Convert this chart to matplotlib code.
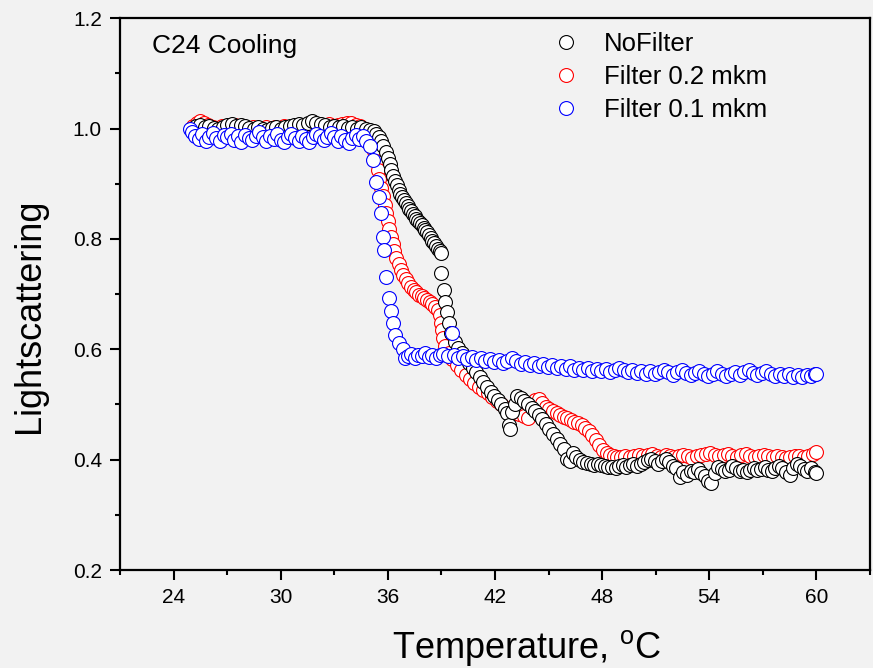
import numpy as np
import matplotlib
matplotlib.use("Agg")
import matplotlib.pyplot as plt
from matplotlib.ticker import MultipleLocator

plt.rcParams['font.family'] = ['Liberation Sans', 'DejaVu Sans']

# NoFilter run
t_nofilter = [
    25.00, 25.25, 25.50, 25.75, 26.00, 26.25, 26.50, 26.75, 27.00, 27.25,
    27.50, 27.75, 28.00, 28.25, 28.50, 28.75, 29.00, 29.25, 29.50, 29.75,
    30.00, 30.25, 30.50, 30.75, 31.00, 31.25, 31.50, 31.75, 32.00, 32.25,
    32.50, 32.75, 33.00, 33.25, 33.50, 33.75, 34.00, 34.25, 34.50, 34.75,
    35.00, 35.20, 35.35, 35.50, 35.62, 35.75, 35.87, 36.00, 36.10, 36.20,
    36.30, 36.40, 36.50, 36.60, 36.70, 36.80, 36.90, 37.00, 37.10, 37.20,
    37.30, 37.40, 37.50, 37.60, 37.70, 37.80, 37.90, 38.00, 38.10, 38.20,
    38.30, 38.40, 38.50, 38.60, 38.70, 38.80, 38.90, 38.97, 39.00, 39.12,
    39.22, 39.30, 39.40, 39.55, 39.75, 39.95, 40.15, 40.35, 40.55, 40.75,
    40.95, 41.15, 41.35, 41.55, 41.75, 41.95, 42.15, 42.35, 42.55, 42.70,
    42.78, 42.85, 42.95, 43.10, 43.25, 43.45, 43.65, 43.85, 44.05, 44.25,
    44.45, 44.65, 44.85, 45.05, 45.25, 45.45, 45.65, 45.85, 46.05, 46.20,
    46.35, 46.55, 46.75, 46.95, 47.15, 47.35, 47.55, 47.75, 47.95, 48.15,
    48.35, 48.55, 48.75, 48.95, 49.15, 49.35, 49.55, 49.75, 49.95, 50.15,
    50.35, 50.55, 50.75, 50.95, 51.15, 51.35, 51.55, 51.75, 51.95, 52.15,
    52.35, 52.55, 52.75, 52.95, 53.15, 53.35, 53.55, 53.75, 53.95, 54.10,
    54.30, 54.50, 54.70, 54.90, 55.10, 55.30, 55.50, 55.70, 55.90, 56.10,
    56.30, 56.50, 56.70, 56.90, 57.10, 57.30, 57.50, 57.70, 57.90, 58.10,
    58.30, 58.50, 58.70, 58.90, 59.10, 59.30, 59.50, 59.70, 59.90, 60.00,
]
ls_nofilter = [
    1.000, 1.004, 1.006, 1.002, 1.005, 1.001, 0.999, 1.003, 1.006, 1.008,
    1.004, 1.007, 1.005, 1.001, 0.999, 1.002, 1.000, 0.997, 1.001, 1.003,
    0.999, 1.002, 1.005, 1.007, 1.009, 1.006, 1.010, 1.013, 1.011, 1.008,
    1.006, 1.003, 1.005, 1.002, 1.004, 1.001, 1.003, 0.999, 1.002, 1.000,
    0.998, 0.995, 0.990, 0.984, 0.977, 0.968, 0.958, 0.947, 0.936, 0.925,
    0.914, 0.905, 0.897, 0.889, 0.882, 0.876, 0.870, 0.865, 0.860, 0.855,
    0.850, 0.846, 0.841, 0.837, 0.833, 0.829, 0.825, 0.820, 0.816, 0.812,
    0.807, 0.802, 0.797, 0.792, 0.787, 0.782, 0.778, 0.774, 0.738, 0.708,
    0.686, 0.667, 0.647, 0.629, 0.614, 0.603, 0.594, 0.584, 0.575, 0.566,
    0.558, 0.550, 0.541, 0.532, 0.523, 0.515, 0.508, 0.500, 0.491, 0.484,
    0.462, 0.455, 0.486, 0.500, 0.515, 0.512, 0.506, 0.501, 0.494, 0.488,
    0.481, 0.473, 0.465, 0.456, 0.447, 0.438, 0.428, 0.419, 0.401, 0.398,
    0.412, 0.405, 0.400, 0.396, 0.394, 0.392, 0.391, 0.392, 0.390, 0.388,
    0.386, 0.387, 0.385, 0.389, 0.390, 0.387, 0.391, 0.393, 0.389, 0.392,
    0.396, 0.400, 0.402, 0.397, 0.393, 0.398, 0.401, 0.395, 0.389, 0.384,
    0.369, 0.378, 0.372, 0.380, 0.377, 0.383, 0.375, 0.370, 0.362, 0.357,
    0.376, 0.386, 0.383, 0.379, 0.381, 0.388, 0.384, 0.380, 0.382, 0.378,
    0.381, 0.385, 0.381, 0.383, 0.386, 0.382, 0.379, 0.384, 0.389, 0.384,
    0.378, 0.372, 0.385, 0.393, 0.389, 0.383, 0.380, 0.384, 0.378, 0.375,
]

# 0.2 mkm filter run
t_filter02 = [
    25.10, 25.30, 25.50, 25.70, 25.95, 26.20, 26.45, 26.70, 26.95, 27.20,
    27.45, 27.70, 27.95, 28.20, 28.45, 28.70, 28.95, 29.20, 29.45, 29.70,
    29.95, 30.20, 30.45, 30.70, 30.95, 31.20, 31.45, 31.70, 31.95, 32.20,
    32.45, 32.70, 32.95, 33.20, 33.45, 33.70, 33.95, 34.20, 34.45, 34.70,
    34.95, 35.10, 35.22, 35.32, 35.42, 35.52, 35.62, 35.72, 35.82, 35.92,
    36.00, 36.08, 36.17, 36.27, 36.37, 36.48, 36.60, 36.73, 36.87, 37.00,
    37.15, 37.30, 37.45, 37.60, 37.75, 37.90, 38.05, 38.20, 38.35, 38.50,
    38.65, 38.80, 38.92, 38.98, 39.02, 39.10, 39.22, 39.40, 39.60, 39.85,
    40.10, 40.35, 40.60, 40.85, 41.10, 41.35, 41.60, 41.85, 42.10, 42.35,
    42.60, 42.85, 43.10, 43.35, 43.60, 43.85, 44.05, 44.25, 44.45, 44.65,
    44.85, 45.05, 45.25, 45.45, 45.65, 45.85, 46.05, 46.25, 46.45, 46.65,
    46.85, 47.05, 47.25, 47.45, 47.65, 47.85, 48.05, 48.25, 48.45, 48.65,
    48.85, 49.05, 49.30, 49.55, 49.80, 50.05, 50.30, 50.55, 50.80, 51.05,
    51.30, 51.55, 51.80, 52.05, 52.30, 52.55, 52.80, 53.05, 53.30, 53.55,
    53.80, 54.05, 54.30, 54.55, 54.80, 55.05, 55.30, 55.55, 55.80, 56.05,
    56.30, 56.55, 56.80, 57.05, 57.30, 57.55, 57.80, 58.05, 58.30, 58.55,
    58.80, 59.05, 59.30, 59.55, 59.80, 60.00,
]
ls_filter02 = [
    1.004, 1.010, 1.014, 1.011, 1.006, 1.003, 1.001, 1.004, 1.002, 1.005,
    1.007, 1.004, 1.002, 1.000, 1.003, 1.001, 0.999, 1.002, 1.000, 1.003,
    1.001, 1.004, 1.002, 1.005, 1.006, 1.004, 1.007, 1.009, 1.006, 1.004,
    1.006, 1.008, 1.005, 1.007, 1.009, 1.011, 1.010, 1.007, 1.004, 1.000,
    0.990, 0.975, 0.960, 0.942, 0.925, 0.908, 0.892, 0.877, 0.862, 0.847,
    0.833, 0.818, 0.804, 0.790, 0.778, 0.765, 0.754, 0.744, 0.735, 0.727,
    0.720, 0.713, 0.707, 0.703, 0.699, 0.696, 0.693, 0.690, 0.686, 0.682,
    0.677, 0.671, 0.662, 0.648, 0.635, 0.620, 0.606, 0.593, 0.582, 0.571,
    0.562, 0.554, 0.546, 0.539, 0.532, 0.526, 0.520, 0.514, 0.507, 0.500,
    0.494, 0.489, 0.485, 0.482, 0.479, 0.476, 0.495, 0.508, 0.510, 0.502,
    0.496, 0.491, 0.488, 0.485, 0.481, 0.478, 0.476, 0.472, 0.469, 0.466,
    0.462, 0.457, 0.452, 0.445, 0.436, 0.427, 0.418, 0.412, 0.409, 0.407,
    0.405, 0.404, 0.406, 0.404, 0.407, 0.409, 0.406, 0.408, 0.410, 0.407,
    0.405, 0.408, 0.406, 0.404, 0.407, 0.409, 0.406, 0.403, 0.406, 0.408,
    0.410, 0.412, 0.409, 0.406, 0.408, 0.410, 0.407, 0.405, 0.408, 0.410,
    0.407, 0.405, 0.407, 0.409, 0.406, 0.404, 0.407, 0.405, 0.403, 0.405,
    0.407, 0.406, 0.404, 0.406, 0.410, 0.413,
]

# 0.1 mkm filter run
t_filter01 = [
    24.90, 25.05, 25.20, 25.40, 25.60, 25.80, 26.00, 26.20, 26.40, 26.60,
    26.80, 27.00, 27.20, 27.40, 27.60, 27.80, 28.00, 28.20, 28.40, 28.60,
    28.80, 29.00, 29.20, 29.40, 29.60, 29.80, 30.00, 30.20, 30.40, 30.60,
    30.80, 31.00, 31.20, 31.40, 31.60, 31.80, 32.00, 32.20, 32.40, 32.60,
    32.80, 33.00, 33.20, 33.40, 33.60, 33.80, 34.00, 34.20, 34.40, 34.60,
    34.80, 35.00, 35.15, 35.32, 35.48, 35.60, 35.70, 35.78, 35.90, 36.05,
    36.17, 36.28, 36.42, 36.60, 36.82, 36.98, 37.10, 37.30, 37.50, 37.70,
    37.90, 38.10, 38.30, 38.50, 38.70, 38.90, 39.10, 39.35, 39.60, 39.70,
    39.95, 40.20, 40.45, 40.70, 40.95, 41.20, 41.45, 41.70, 41.95, 42.20,
    42.45, 42.70, 42.95, 43.20, 43.45, 43.70, 43.95, 44.20, 44.45, 44.70,
    44.95, 45.20, 45.45, 45.70, 45.95, 46.20, 46.45, 46.70, 46.95, 47.20,
    47.45, 47.70, 47.95, 48.20, 48.45, 48.70, 48.95, 49.20, 49.45, 49.70,
    49.95, 50.20, 50.45, 50.70, 50.95, 51.20, 51.45, 51.70, 51.95, 52.20,
    52.45, 52.70, 52.95, 53.20, 53.45, 53.70, 53.95, 54.20, 54.45, 54.70,
    54.95, 55.20, 55.45, 55.70, 55.95, 56.20, 56.45, 56.70, 56.95, 57.20,
    57.45, 57.70, 57.95, 58.20, 58.45, 58.70, 58.95, 59.20, 59.45, 59.70,
    59.90, 60.00,
]
ls_filter01 = [
    1.000, 0.993, 0.987, 0.982, 0.990, 0.978, 0.985, 0.992, 0.983, 0.977,
    0.988, 0.984, 0.991, 0.980, 0.986, 0.976, 0.989, 0.983, 0.979, 0.987,
    0.993, 0.984, 0.978, 0.986, 0.982, 0.990, 0.980, 0.975, 0.985, 0.990,
    0.983, 0.978, 0.987, 0.981, 0.976, 0.984, 0.991, 0.987, 0.980, 0.985,
    0.992, 0.984, 0.978, 0.986, 0.980, 0.973, 0.983, 0.989, 0.982, 0.986,
    0.978, 0.968, 0.943, 0.903, 0.876, 0.847, 0.804, 0.780, 0.731, 0.693,
    0.670, 0.648, 0.626, 0.612, 0.600, 0.584, 0.588, 0.592, 0.585, 0.590,
    0.587, 0.593, 0.586, 0.590, 0.584, 0.589, 0.591, 0.587, 0.629, 0.590,
    0.584, 0.588, 0.582, 0.586, 0.580, 0.584, 0.579, 0.583, 0.577, 0.581,
    0.575, 0.579, 0.584, 0.578, 0.573, 0.577, 0.571, 0.575, 0.570, 0.574,
    0.568, 0.572, 0.566, 0.570, 0.565, 0.569, 0.563, 0.567, 0.562, 0.566,
    0.561, 0.565, 0.560, 0.564, 0.559, 0.563, 0.567, 0.562, 0.558, 0.562,
    0.557, 0.561, 0.556, 0.560, 0.555, 0.559, 0.563, 0.558, 0.554, 0.558,
    0.562, 0.557, 0.553, 0.557, 0.561, 0.556, 0.552, 0.556, 0.560, 0.555,
    0.551, 0.555, 0.559, 0.554, 0.558, 0.562, 0.557, 0.553, 0.557, 0.561,
    0.556, 0.552, 0.556, 0.551, 0.555, 0.550, 0.554, 0.549, 0.553, 0.551,
    0.555, 0.556,
]

bg = '#f2f2f2'
fig = plt.figure(figsize=(8.73, 6.68), dpi=100, facecolor=bg)
ax = fig.add_axes([0.1375, 0.1467, 0.859, 0.826], facecolor=bg)

style = dict(ls='none', marker='o', ms=10, mfc='white', mew=0.8)
l02, = ax.plot(t_filter02, ls_filter02, mec='#ff0000', zorder=2,
               label='Filter 0.2 mkm', **style)
l00, = ax.plot(t_nofilter, ls_nofilter, mec='black', zorder=3,
               label='NoFilter', **style)
l01, = ax.plot(t_filter01, ls_filter01, mec='#0000ff', zorder=4,
               label='Filter 0.1 mkm', **style)

ax.set_xlim(21, 63)
ax.set_ylim(0.2, 1.2)
ax.xaxis.set_major_locator(MultipleLocator(6))
ax.xaxis.set_minor_locator(MultipleLocator(3))
ax.yaxis.set_major_locator(MultipleLocator(0.2))
ax.yaxis.set_minor_locator(MultipleLocator(0.1))
ax.set_xticks(np.arange(24, 61, 6))
ax.yaxis.set_major_formatter(matplotlib.ticker.FormatStrFormatter('%.1f'))

ax.tick_params(which='major', direction='out', length=7, width=1.5,
               labelsize=15, pad=6)
ax.tick_params(which='minor', direction='out', length=3.5, width=1.5)
for s in ax.spines.values():
    s.set_linewidth(1.6)

ax.set_xlabel('Temperature, $^\\mathregular{o}$C', fontsize=26)
ax.set_ylabel('Lightscattering', fontsize=26)
ax.xaxis.set_label_coords(0.542, -0.105)
ax.yaxis.set_label_coords(-0.098, 0.46)

ax.text(0.042, 0.95, 'C24 Cooling', transform=ax.transAxes,
        fontsize=19, va='center', ha='left')

ax.legend(handles=[l00, l02, l01], loc='upper left',
          bbox_to_anchor=(0.553, 1.008), frameon=False, fontsize=18.5,
          numpoints=1, handlelength=1.0, handletextpad=1.0,
          labelspacing=0.36, borderaxespad=0.3)

fig.savefig('out.png', dpi=100, facecolor=bg)
